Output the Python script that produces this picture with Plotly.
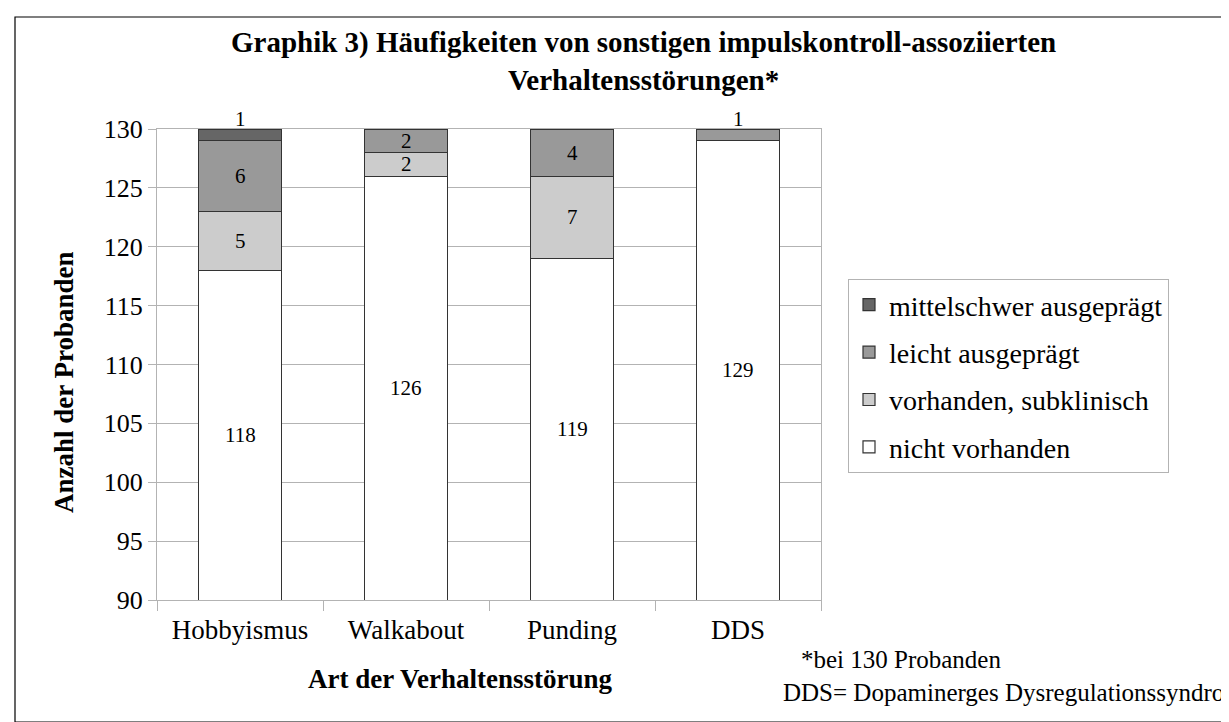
import plotly.graph_objects as go

categories = ["Hobbyismus", "Walkabout", "Punding", "DDS"]
nicht_vorhanden = [118, 126, 119, 129]
vorhanden_subklinisch = [5, 2, 7, 0]
leicht_ausgepraegt = [6, 2, 4, 1]
mittelschwer_ausgepraegt = [1, 0, 0, 0]

series = [
    ("nicht vorhanden", nicht_vorhanden, "#ffffff"),
    ("vorhanden, subklinisch", vorhanden_subklinisch, "#cccccc"),
    ("leicht ausgeprägt", leicht_ausgepraegt, "#999999"),
    ("mittelschwer ausgeprägt", mittelschwer_ausgepraegt, "#666666"),
]

y_range = [90, 130]
y_ticks = [90, 95, 100, 105, 110, 115, 120, 125, 130]

W, H = 1229, 722
L, R, T, B = 149, 1229 - 813, 121, 722 - 592
PW, PH = W - L - R, H - T - B


def px(xp):
    return (xp - L) / PW


def py(yp):
    return (H - B - yp) / PH


FONT = "Liberation Serif, Times New Roman, Times, serif"

fig = go.Figure()
n = len(series)
for i, (name, vals, color) in enumerate(series):
    fig.add_trace(go.Bar(
        x=categories, y=vals, name=name,
        marker=dict(color=color, line=dict(color="#333333", width=1.2)),
        width=0.5, legendgroup=f"g{i}", legendrank=n - i, textposition="none",
    ))

annotations = []
cum = [0] * len(categories)
for name, vals, color in series:
    for j, v in enumerate(vals):
        lo = cum[j]
        cum[j] += v
        if v <= 0:
            continue
        if v < 2:
            annotations.append(dict(x=categories[j], y=cum[j], xref="x", yref="y",
                                    text=str(v), showarrow=False, yanchor="bottom",
                                    yshift=-4, font=dict(family=FONT, size=21, color="#000")))
        else:
            annotations.append(dict(x=categories[j], y=(max(lo, y_range[0]) + cum[j]) / 2,
                                    xref="x", yref="y", text=str(v), showarrow=False,
                                    font=dict(family=FONT, size=21, color="#000")))

annotations += [
    dict(x=px(635), y=py(16), xref="paper", yref="paper", xanchor="center", yanchor="top",
         text="<b>Graphik 3) Häufigkeiten von sonstigen impulskontroll-assoziierten<br>Verhaltensstörungen*</b>",
         showarrow=False, font=dict(family=FONT, size=29, color="#000")),
    dict(x=px(39), y=py(374), xref="paper", yref="paper", textangle=-90,
         text="<b>Anzahl der Probanden</b>", showarrow=False,
         font=dict(family=FONT, size=27, color="#000")),
    dict(x=px(452), y=py(688), xref="paper", yref="paper",
         text="<b>Art der Verhaltensstörung</b>", showarrow=False,
         font=dict(family=FONT, size=27, color="#000")),
    dict(x=px(995), y=py(667), xref="paper", yref="paper",
         text="*bei 130 Probanden", showarrow=False,
         font=dict(family=FONT, size=25, color="#000")),
    dict(x=px(1218), y=py(700), xref="paper", yref="paper", xanchor="right",
         text="DDS= Dopaminerges Dysregulationssyndro", showarrow=False,
         font=dict(family=FONT, size=25, color="#000")),
]

fig.update_layout(
    width=W, height=H,
    margin=dict(l=L, r=R, t=T, b=B, autoexpand=False),
    paper_bgcolor="#ffffff", plot_bgcolor="#ffffff",
    barmode="stack", bargap=0.5,
    showlegend=True,
    legend=dict(x=px(840), y=py(271), xanchor="left", yanchor="top",
                traceorder="grouped", tracegroupgap=8,
                bgcolor="#ffffff", bordercolor="#b3b3b3", borderwidth=1,
                font=dict(family=FONT, size=28, color="#000")),
    font=dict(family=FONT, color="#000"),
    annotations=annotations,
    shapes=[dict(type="rect", xref="paper", yref="paper",
                 x0=px(7), x1=px(1222), y0=py(714), y1=py(9),
                 line=dict(color="#000000", width=1.2), fillcolor="rgba(0,0,0,0)", layer="below")],
)

fig.update_xaxes(
    showline=True, linecolor="#b3b3b3", mirror=True, linewidth=1,
    ticks="outside", tickson="boundaries", ticklen=10, tickcolor="#b3b3b3",
    ticklabelstandoff=6,
    showgrid=False, automargin=False,
    tickfont=dict(family=FONT, size=27, color="#000"),
)
fig.update_yaxes(
    range=y_range, tickvals=y_ticks, ticktext=[str(t) for t in y_ticks],
    showline=True, linecolor="#b3b3b3", mirror=True, linewidth=1,
    ticks="outside", ticklen=8, tickcolor="#b3b3b3",
    showgrid=True, gridcolor="#b3b3b3", gridwidth=1, zeroline=False,
    automargin=False,
    tickfont=dict(family=FONT, size=26, color="#000"),
)

fig.write_html("out.html")
